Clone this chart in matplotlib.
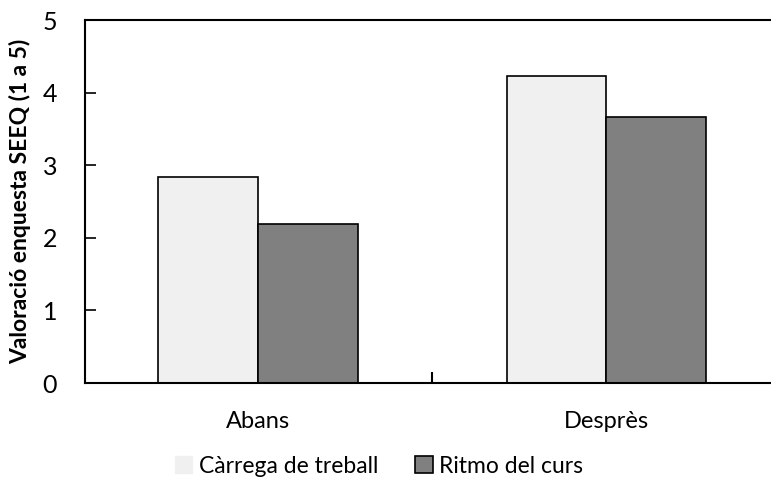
import matplotlib
matplotlib.use("Agg")
import matplotlib.pyplot as plt
import numpy as np

categories = ["Abans", "Desprès"]
series_names = ["Càrrega de treball", "Ritmo del curs"]
carrega = [2.84, 4.23]
ritmo = [2.19, 3.66]
yticks = [0, 1, 2, 3, 4, 5]

plt.rcParams['font.family'] = ['Lato', 'DejaVu Sans']

fig = plt.figure(figsize=(7.71, 4.86), dpi=100)
ax = fig.add_axes([85/771, 1-383/486, (770-85)/771, (383-20)/486])

x = np.arange(len(categories))
w = 0.286
ax.bar(x - w/2, carrega, w, color='#f0f0f0', edgecolor='black', linewidth=1.2, label=series_names[0])
ax.bar(x + w/2, ritmo, w, color='#808080', edgecolor='black', linewidth=1.2, label=series_names[1])

ax.set_xlim(-0.497, 1.471)
ax.set_ylim(0, 5)
ax.set_yticks(yticks)
ax.set_xticks(x)
ax.set_xticklabels(categories, fontsize=17)
ax.set_xticks([0.5], minor=True)
ax.tick_params(axis='x', which='major', length=0, pad=20)
ax.tick_params(axis='x', which='minor', direction='in', length=8, width=1.5)
ax.tick_params(axis='y', direction='in', length=8, width=1.2, labelsize=18, pad=20)
for s in ['left', 'bottom', 'top']:
    ax.spines[s].set_linewidth(1.5)
ax.spines['right'].set_visible(False)

ax.set_ylabel("Valoració enquesta SEEQ (1 a 5)", fontsize=16.5, fontweight='bold', labelpad=8)

h1 = plt.Rectangle((0, 0), 1, 1, facecolor='#f0f0f0', edgecolor='#f0f0f0')
h2 = plt.Rectangle((0, 0), 1, 1, facecolor='#808080', edgecolor='black', linewidth=1.2)
fig.legend([h1, h2], series_names, loc='center', bbox_to_anchor=(0.492, 1-466/486), ncol=2,
           frameon=False, fontsize=16.5, handlelength=0.75, handleheight=0.75, handletextpad=0.3,
           columnspacing=1.6)

fig.savefig("out.png", dpi=100)
